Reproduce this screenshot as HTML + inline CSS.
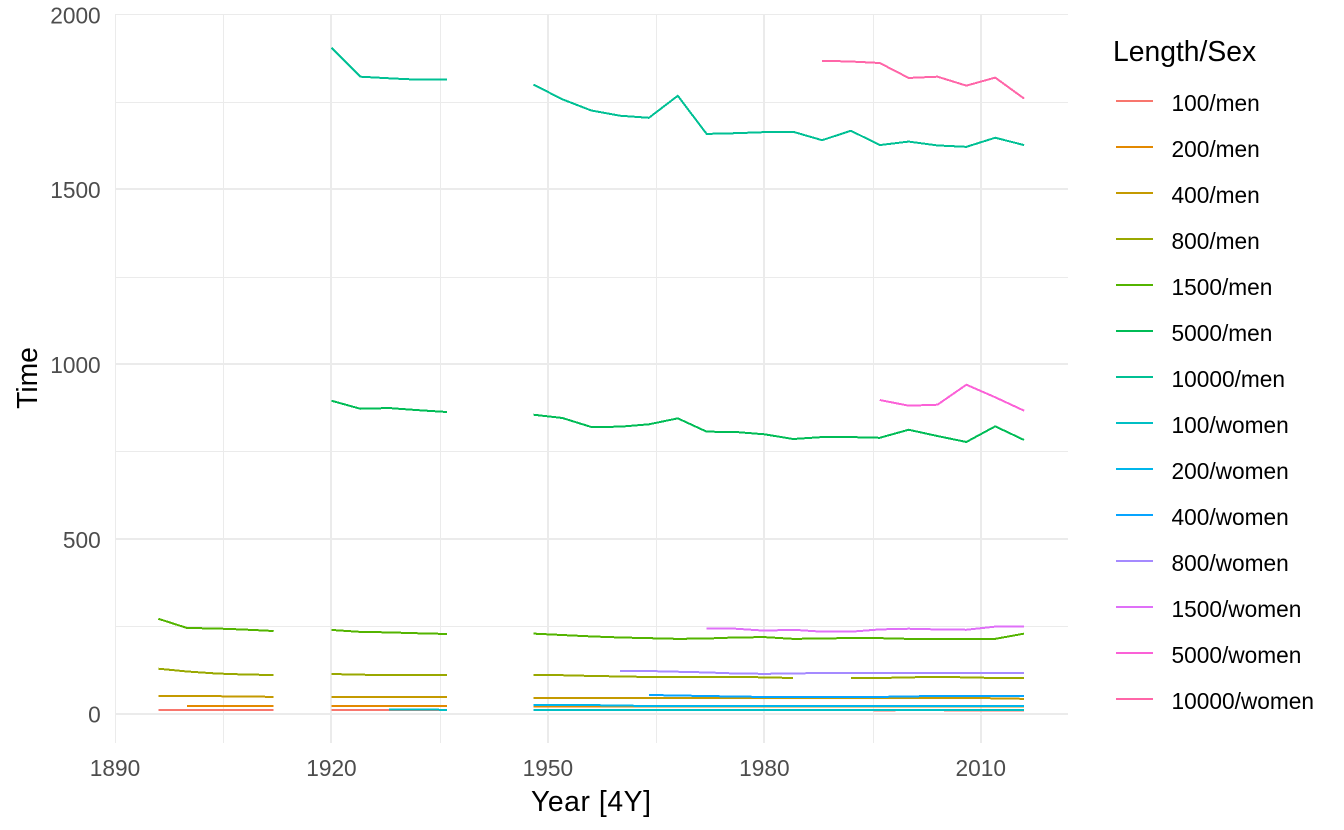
<!DOCTYPE html>
<html lang="en">
<head>
<meta charset="utf-8">
<title>Olympic running times</title>
<style>
html,body{margin:0;padding:0;background:#fff;}
svg{display:block;font-family:"Liberation Sans",Arial,sans-serif;}
</style>
</head>
<body>
<svg id="chart" xmlns="http://www.w3.org/2000/svg" width="1344" height="830" viewBox="0 0 1344 830">
  <g id="grid"></g>
  <g id="series"></g>
  <g id="ticks"></g>
  <text x="531" y="811" textLength="120" lengthAdjust="spacing" font-size="28.3" fill="#000">Year [4Y]</text>
  <text transform="translate(37,378) rotate(-90)" text-anchor="middle" font-size="28.3" fill="#000">Time</text>
  <g id="legend">
    <text x="1113" y="61" font-size="28.3" fill="#000">Length/Sex</text>
  </g>
</svg>
<script>
const years = [1896,1900,1904,1908,1912,1916,1920,1924,1928,1932,1936,1940,1944,1948,1952,1956,1960,1964,1968,1972,1976,1980,1984,1988,1992,1996,2000,2004,2008,2012,2016];
const N = null;
const men100 = [10.8,10.8,10.8,10.8,10.8,N,10.8,10.6,10.8,10.3,10.3,N,N,10.3,10.4,10.5,10.2,10,10,10.1,10.1,10.2,10,9.9,10,9.8,9.9,9.9,9.7,9.6,9.8];
const men200 = [N,22,22,22,22,N,22,22,22,22,21.8,N,N,21.1,21,21,21,21,21,21,21,21,21,21,21,21,21,21,21,21,21];
const men400 = [51,51,50,49.5,48,N,48,48,48,48,48,N,N,45.5,45,45,45,45,45,45,45,45,45,45,45,45,45,45,45,44,42.5];
const men800 = [128.7,120.7,115,112,110.7,N,113.5,111.5,110.7,110.7,110.7,N,N,110.7,110,108,106.5,105,105,105,105,104,102,N,102,102,104,105,104,102,102];
const men1500 = [271.5,245,243.7,240.5,236.5,N,239.5,234,232.5,230,228,N,N,229,225,221,218,216,214,215,218,219,214,215,216.5,216,214,214,214,214,229];
const men5000 = [N,N,N,N,N,N,895,872,874,868,862.7,N,N,855,845.6,820,820.7,827.5,844.6,806.5,805.6,799,785.5,791,791,789,812,794,777,821.8,782.7];
const men10000 = [N,N,N,N,N,N,1904.6,1821.6,1817,1813,1813,N,N,1799,1757,1725,1710,1704,1767,1658,1660,1663,1664,1640,1667,1626,1636,1625,1621,1647,1626];
const women100 = [N,N,N,N,N,N,N,N,12.5,12,11,N,N,11,11,11,11,11,11,11,11,11,11,10.6,10.8,10.9,11,10.9,10.8,10.8,10.7];
const women200 = [N,N,N,N,N,N,N,N,N,N,N,N,N,25,25,24.5,23.4,22,22,22,22,22,22,21.5,22,22,22,22,22,22,22];
const women400 = [N,N,N,N,N,N,N,N,N,N,N,N,N,N,N,N,N,53.5,52,50.6,49,48,48,48,48,48,49.5,50.6,50.6,50.6,50.6];
const women800 = [N,N,N,N,N,N,N,N,N,N,N,N,N,N,N,N,122,122,120,118,115,114,115,116.5,116.5,116.5,116.5,116.5,116.5,116.5,116.5];
const women1500 = [N,N,N,N,N,N,N,N,N,N,N,N,N,N,N,N,N,N,N,243,243,237.5,240,234.5,234.5,241,243,241,240,249,249];
const women5000 = [N,N,N,N,N,N,N,N,N,N,N,N,N,N,N,N,N,N,N,N,N,N,N,N,N,897,880.8,883.6,940.8,904.8,866.5];
const women10000 = [N,N,N,N,N,N,N,N,N,N,N,N,N,N,N,N,N,N,N,N,N,N,N,1867,1865,1860.7,1818,1821.6,1796,1819,1759];
const seriesNames = ["100/men","200/men","400/men","800/men","1500/men","5000/men","10000/men","100/women","200/women","400/women","800/women","1500/women","5000/women","10000/women"];
const seriesValues = [men100,men200,men400,men800,men1500,men5000,men10000,women100,women200,women400,women800,women1500,women5000,women10000];
const seriesColors = ["#F8766D","#E38900","#C49A00","#99A800","#53B400","#00BC56","#00C094","#00BFC4","#00B6EB","#06A4FF","#A58AFF","#DF70F8","#FB61D7","#FF66A8"];
const xMajorTicks = [1890,1920,1950,1980,2010];
const xMinorTicks = [1905,1935,1965,1995];
const yMajorTicks = [0,500,1000,1500,2000];
const yMinorTicks = [250,750,1250,1750];

const SVGNS = "http://www.w3.org/2000/svg";
const panel = {left:115.5, right:1068, top:14.3, bottom:743};
function xScale(year){ return 115.0 + (year - 1890) * 7.215; }
function yScale(value){ return 713.7 - value * 0.3497; }
function make(parent, tag, attrs){
  const el = document.createElementNS(SVGNS, tag);
  for (const k in attrs) el.setAttribute(k, attrs[k]);
  parent.appendChild(el);
  return el;
}
const grid = document.getElementById("grid");
yMinorTicks.forEach(function(v){
  const el = make(grid,"line",{x1:panel.left-0.5,x2:panel.right,y1:Math.round(yScale(v))+0.5,y2:Math.round(yScale(v))+0.5,stroke:"#EBEBEB","stroke-width":1});
  
  
});
xMinorTicks.forEach(function(v){
  const el = make(grid,"line",{x1:Math.round(xScale(v))+0.5,x2:Math.round(xScale(v))+0.5,y1:panel.top-0.3,y2:panel.bottom,stroke:"#EBEBEB","stroke-width":1});
  
  
});
yMajorTicks.forEach(function(v){
  const edge = v === 2000;
  const y = edge ? 14.5 : Math.round(yScale(v));
  const el = make(grid,"line",{x1:panel.left-0.5,x2:panel.right,y1:y,y2:y,stroke:"#EBEBEB","stroke-width":edge?1:2});
  
  
});
xMajorTicks.forEach(function(v){
  const edge = v === 1890;
  const x = edge ? 115.5 : Math.round(xScale(v));
  const el = make(grid,"line",{x1:x,x2:x,y1:panel.top-0.3,y2:panel.bottom,stroke:"#EBEBEB","stroke-width":edge?1:2});
  
  
});

const ticks = document.getElementById("ticks");
yMajorTicks.forEach(function(v){
  const el = make(ticks,"text",{x:100.7,y:yScale(v)+9,"text-anchor":"end","font-size":22.7,fill:"#4D4D4D"});
  el.textContent = v;
  
  
});
xMajorTicks.forEach(function(v){
  const el = make(ticks,"text",{x:xScale(v),y:776,"text-anchor":"middle","font-size":22.7,fill:"#4D4D4D"});
  el.textContent = v;
  
  
});

const seriesGroup = document.getElementById("series");
seriesValues.forEach(function(values, s){
  let d = "", pen = false;
  values.forEach(function(v, i){
    if (v === null) { pen = false; return; }
    d += (pen ? "L" : "M") + xScale(years[i]).toFixed(2) + " " + yScale(v).toFixed(2);
    pen = true;
  });
  const path = make(seriesGroup,"path",{d:d,fill:"none",stroke:seriesColors[s],"stroke-width":2,"stroke-linejoin":"round","shape-rendering":"crispEdges"});
  
  
});

const legend = document.getElementById("legend");
seriesNames.forEach(function(name, i){
  const y = 101 + i * 46;
  const key = make(legend,"line",{x1:1116,x2:1153,y1:y,y2:y,stroke:seriesColors[i],"stroke-width":2,"shape-rendering":"crispEdges"});
  
  
  const label = make(legend,"text",{x:1171.5,y:y+10,"font-size":22.7,fill:"#000"});
  label.textContent = name;
  
  
});
</script>
</body>
</html>
